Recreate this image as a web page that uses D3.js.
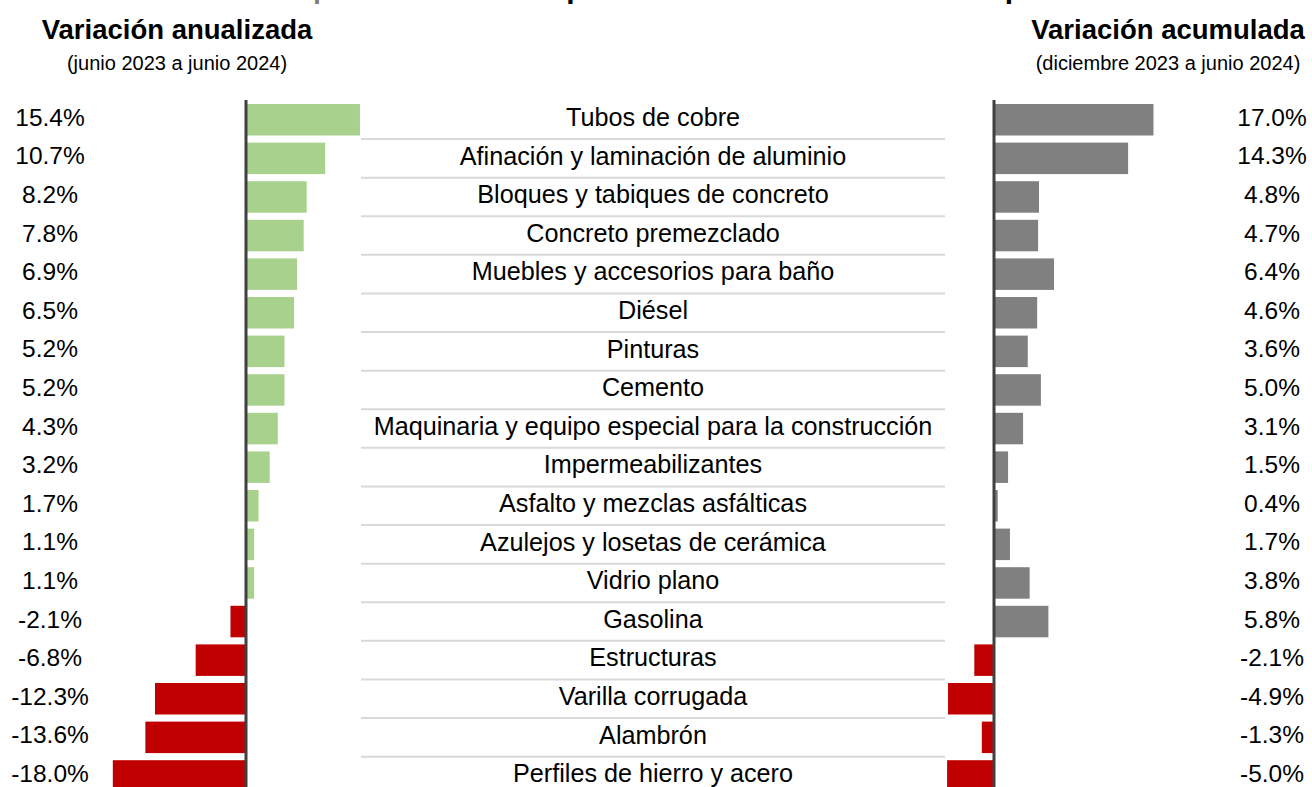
<!DOCTYPE html>
<html>
<head>
<meta charset="utf-8">
<script src="https://cdn.jsdelivr.net/npm/d3@7"></script>
<style>
    body { margin: 0; background: #fff; }
    svg { display: block; font-family: "Liberation Sans", Arial, sans-serif; }
</style>
</head>
<body>
<svg id="chart"></svg>
<script>
// Datos
const categorias = [
    "Tubos de cobre",
    "Afinación y laminación de aluminio",
    "Bloques y tabiques de concreto",
    "Concreto premezclado",
    "Muebles y accesorios para baño",
    "Diésel",
    "Pinturas",
    "Cemento",
    "Maquinaria y equipo especial para la construcción",
    "Impermeabilizantes",
    "Asfalto y mezclas asfálticas",
    "Azulejos y losetas de cerámica",
    "Vidrio plano",
    "Gasolina",
    "Estructuras",
    "Varilla corrugada",
    "Alambrón",
    "Perfiles de hierro y acero"
];
const variacionAnual = [15.4, 10.7, 8.2, 7.8, 6.9, 6.5, 5.2, 5.2, 4.3, 3.2, 1.7, 1.1, 1.1, -2.1, -6.8, -12.3, -13.6, -18.0];
const variacionAcum = [17.0, 14.3, 4.8, 4.7, 6.4, 4.6, 3.6, 5.0, 3.1, 1.5, 0.4, 1.7, 3.8, 5.8, -2.1, -4.9, -1.3, -5.0];

const width = 1312;
const height = 787;

const svg = d3.select("#chart")
    .attr("width", width)
    .attr("height", height);

const rows = categorias.map((c, i) => ({ cat: c, anual: variacionAnual[i], acum: variacionAcum[i] }));

// escala vertical compartida
const y = d3.scaleBand()
    .domain(categorias)
    .range([100.45, 100.45 + 18 * 38.6])
    .paddingInner(0.184)
    .paddingOuter(0.092);

const xL = d3.scaleLinear().domain([-20, 20]).range([246 - 148, 246 + 148]);
const xR = d3.scaleLinear().domain([-20, 20]).range([994 - 187.6, 994 + 187.6]);

const pct = v => v.toFixed(1) + "%";

// titulo (recortado en la parte superior)
const title = svg.append("text")
    .attr("x", 176)
    .attr("y", -2)
    .style("font-size", "30px")
    .style("font-weight", "bold");
title.append("tspan").attr("fill", "#7f7f7f").text("Gráfica 2 | ");
title.append("tspan").attr("fill", "#000").text("Variación en los precios de los insumos más representativos");

// encabezados
const headers = [
    { x: 177, t: "Variación anualizada", s: "(junio 2023 a junio 2024)" },
    { x: 1168, t: "Variación acumulada", s: "(diciembre 2023 a junio 2024)" }
];
headers.forEach(h => {
    svg.append("text")
        .attr("x", h.x).attr("y", 39)
        .attr("text-anchor", "middle")
        .style("font-size", "27.5px")
        .style("font-weight", "bold")
        .text(h.t);
    svg.append("text")
        .attr("x", h.x).attr("y", 70)
        .attr("text-anchor", "middle")
        .style("font-size", "20px")
        .text(h.s);
});

// separadores
const gap = y.step() - y.bandwidth();
svg.selectAll(".sep")
    .data(categorias.slice(0, -1))
    .enter()
    .append("line")
    .attr("class", "sep")
    .attr("x1", 361).attr("x2", 945)
    .attr("y1", d => y(d) + y.bandwidth() + gap / 2)
    .attr("y2", d => y(d) + y.bandwidth() + gap / 2)
    .attr("stroke", "#d9d9d9")
    .attr("stroke-width", 2);

// barras izquierda
svg.selectAll(".barL")
    .data(rows)
    .enter()
    .append("rect")
    .attr("class", "barL")
    .attr("x", d => Math.min(xL(0), xL(d.anual)))
    .attr("y", d => y(d.cat))
    .attr("width", d => Math.abs(xL(d.anual) - xL(0)))
    .attr("height", y.bandwidth())
    .attr("fill", d => d.anual >= 0 ? "#a9d18e" : "#c00000");

// barras derecha
svg.selectAll(".barR")
    .data(rows)
    .enter()
    .append("rect")
    .attr("class", "barR")
    .attr("x", d => Math.min(xR(0), xR(d.acum)))
    .attr("y", d => y(d.cat))
    .attr("width", d => Math.abs(xR(d.acum) - xR(0)))
    .attr("height", y.bandwidth())
    .attr("fill", d => d.acum >= 0 ? "#808080" : "#c00000");

// lineas de cero
[xL(0), xR(0)].forEach(x0 => {
    svg.append("line")
        .attr("x1", x0).attr("x2", x0)
        .attr("y1", 100).attr("y2", height)
        .attr("stroke", "#404040")
        .attr("stroke-width", 3);
});

// etiquetas
const mid = d => y(d.cat) + y.bandwidth() / 2 - 2.5;

svg.selectAll(".valL")
    .data(rows)
    .enter()
    .append("text")
    .attr("x", 50)
    .attr("y", mid)
    .attr("dy", "0.35em")
    .attr("text-anchor", "middle")
    .style("font-size", "24.5px")
    .text(d => pct(d.anual));

svg.selectAll(".valR")
    .data(rows)
    .enter()
    .append("text")
    .attr("x", 1272)
    .attr("y", mid)
    .attr("dy", "0.35em")
    .attr("text-anchor", "middle")
    .style("font-size", "24.5px")
    .text(d => pct(d.acum));

svg.selectAll(".cat")
    .data(rows)
    .enter()
    .append("text")
    .attr("x", 653)
    .attr("y", mid)
    .attr("dy", "0.35em")
    .attr("text-anchor", "middle")
    .style("font-size", "25.2px")
    .text(d => d.cat);
</script>
</body>
</html>
